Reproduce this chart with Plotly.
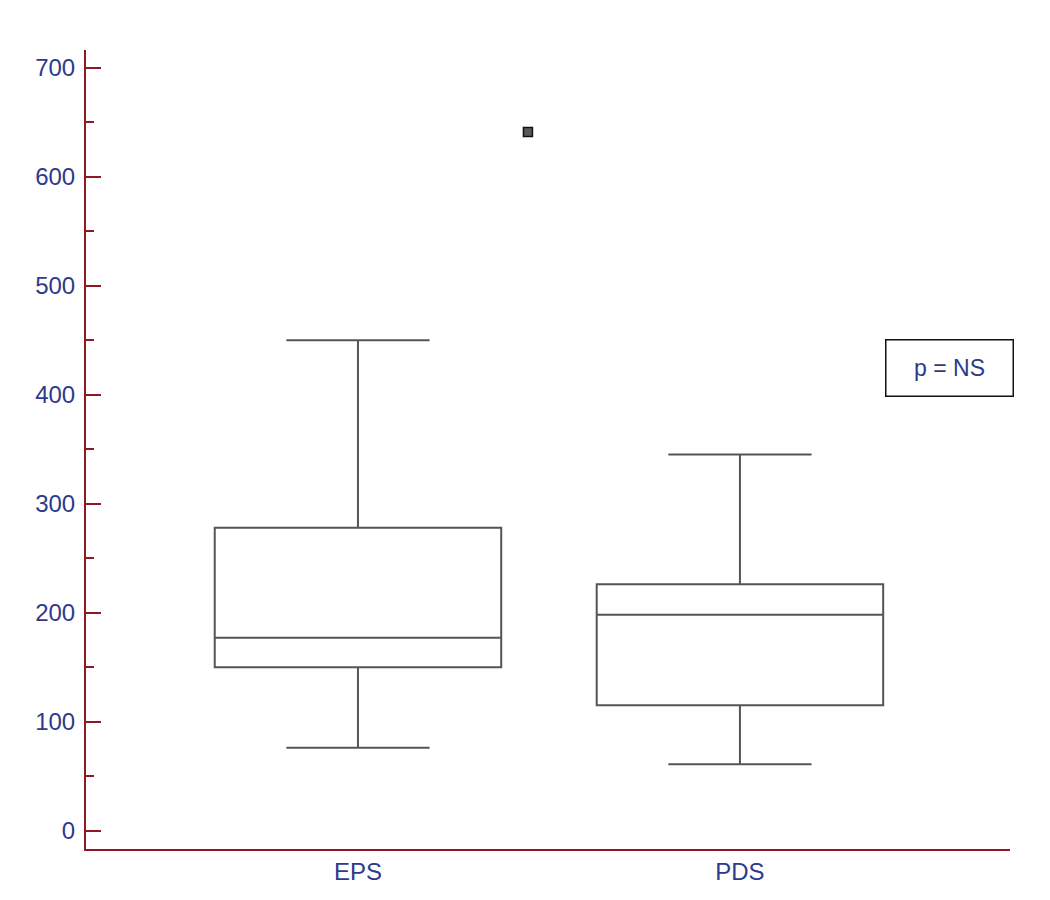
"""
plot.py

Box plot comparing EPS and PDS, rebuilt with Plotly.
"""

import plotly.graph_objects as go

# ---------------------------------------------------------------------------
# Data
# ---------------------------------------------------------------------------
GROUPS = ["EPS", "PDS"]
GROUP_POS = [0, 1]
LOWER_WHISKER = [76, 61]
Q1 = [150, 115]
MEDIAN = [177, 198]
Q3 = [278, 226]
UPPER_WHISKER = [450, 345]

OUTLIER_X = [0.445]
OUTLIER_Y = [641]

Y_TICKS = [0, 100, 200, 300, 400, 500, 600, 700]

# ---------------------------------------------------------------------------
# Styling
# ---------------------------------------------------------------------------
COLOUR_AXIS = "#8C1A24"
COLOUR_TEXT = "#2E3A8A"
COLOUR_BOX = "#555555"
FONT = "Liberation Sans, Arial, sans-serif"

fig = go.Figure()

for i, name in enumerate(GROUPS):
    fig.add_trace(go.Box(
        x=[GROUP_POS[i]],
        q1=[Q1[i]],
        median=[MEDIAN[i]],
        q3=[Q3[i]],
        lowerfence=[LOWER_WHISKER[i]],
        upperfence=[UPPER_WHISKER[i]],
        name=name,
        width=0.75,
        whiskerwidth=0.5,
        fillcolor="rgba(0,0,0,0)",
        line=dict(color=COLOUR_BOX, width=2),
        boxpoints=False,
        hoverinfo="y",
    ))

# outlier
fig.add_trace(go.Scatter(
    x=OUTLIER_X, y=OUTLIER_Y,
    mode="markers",
    marker=dict(symbol="square", size=9, color="#5a5a5a",
                line=dict(color="#111111", width=1.5)),
    hoverinfo="y",
))

fig.add_annotation(
    text="p = NS",
    xref="paper", yref="paper",
    x=0.934, y=0.602,
    xanchor="center", yanchor="middle",
    showarrow=False,
    font=dict(family=FONT, size=23, color=COLOUR_TEXT),
    width=124, height=53,
    bordercolor="#111111", borderwidth=1.5, borderpad=1,
    bgcolor="white",
)

fig.update_layout(
    width=1050, height=900,
    margin=dict(l=78, r=48, t=42, b=59),
    paper_bgcolor="white",
    plot_bgcolor="white",
    showlegend=False,
    font=dict(family=FONT, size=23, color=COLOUR_TEXT),
)

fig.update_xaxes(
    range=[-0.712, 1.707],
    tickvals=GROUP_POS,
    ticktext=GROUPS,
    ticks="",
    showgrid=False, zeroline=False,
    showline=True, linecolor=COLOUR_AXIS, linewidth=2,
    tickfont=dict(family=FONT, size=24, color=COLOUR_TEXT),
)

fig.update_yaxes(
    range=[-16.8, 716.2],
    tickvals=Y_TICKS,
    ticks="inside", ticklen=15, tickwidth=2, tickcolor=COLOUR_AXIS,
    minor=dict(dtick=50, ticks="inside", ticklen=8, tickwidth=2,
               tickcolor=COLOUR_AXIS, tick0=0),
    showgrid=False, zeroline=False,
    showline=True, linecolor=COLOUR_AXIS, linewidth=2,
    ticklabelstandoff=4,
    tickfont=dict(family=FONT, size=24, color=COLOUR_TEXT),
)

fig.write_html("out.html")
